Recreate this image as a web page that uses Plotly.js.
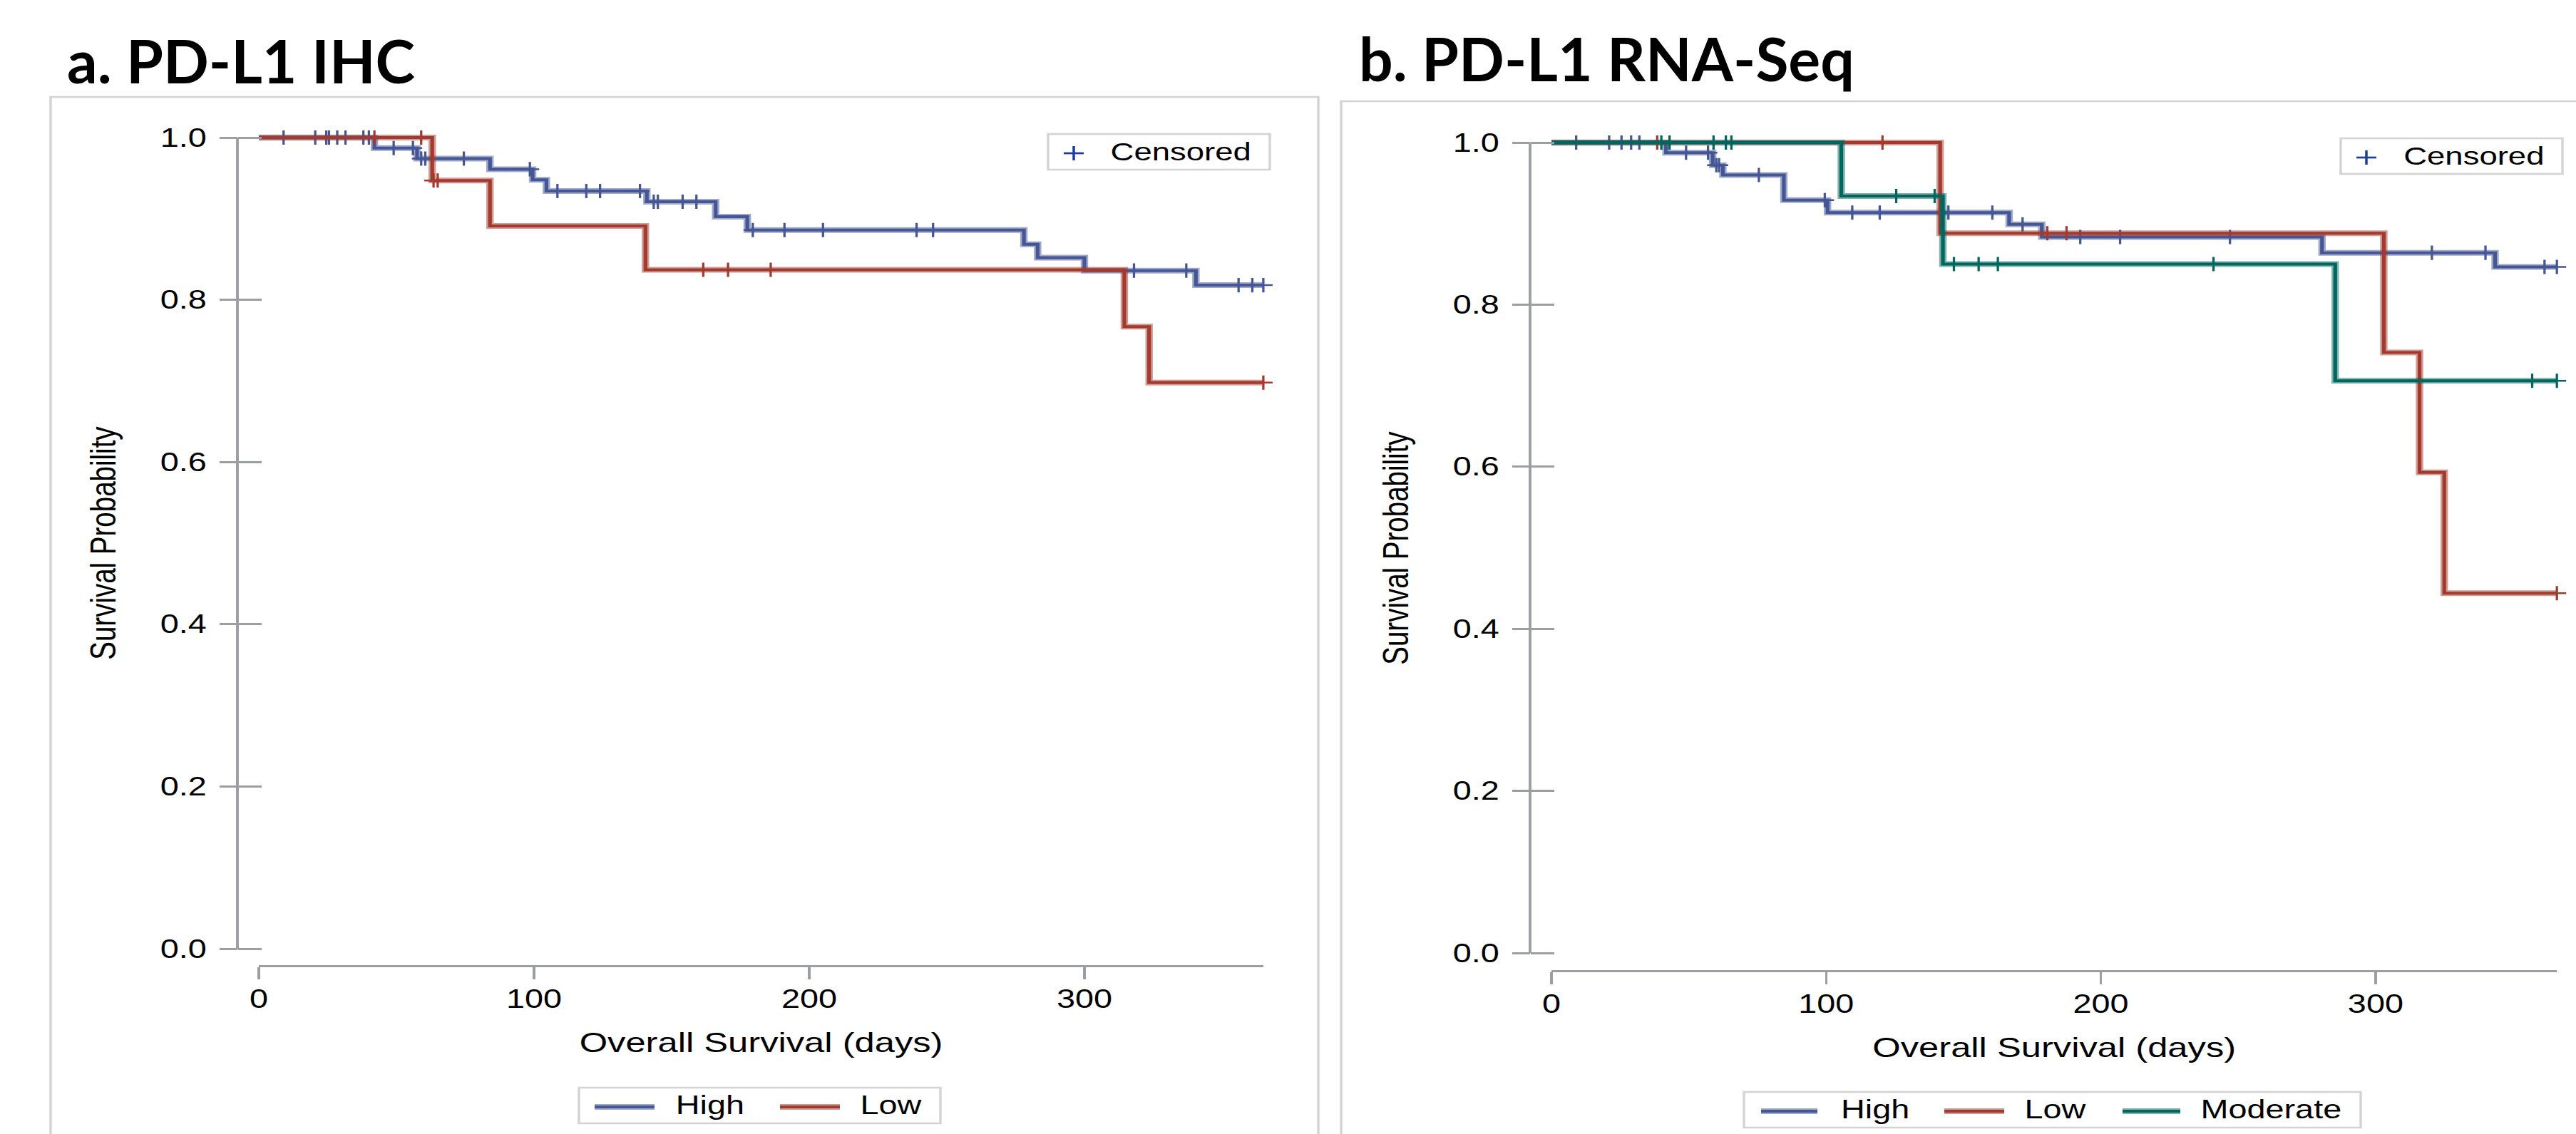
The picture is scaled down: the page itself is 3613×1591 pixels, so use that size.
<!DOCTYPE html>
<html>
<head>
<meta charset="utf-8">
<script src="https://cdn.plot.ly/plotly-3.0.1.min.js"></script>
<style>
html,body{margin:0;padding:0;background:#fff;overflow:hidden;width:3613px;height:1591px;}
#chart{position:absolute;left:0;top:0;width:2779px;height:1591px;transform:scaleX(1.30011);transform-origin:0 0;}
#titles{position:absolute;left:0;top:0;width:3613px;height:1591px;pointer-events:none;}
</style>
</head>
<body>
<div id="chart"></div>
<div id="titles"></div>
<script>
// ---------------- DATA ----------------
const panelTitles = ['a. PD-L1 IHC', 'b. PD-L1 RNA-Seq'];
const groupNames = ['High', 'Low', 'Moderate'];
const timeTicks = [0, 100, 200, 300];
const timeTickText = ['0', '100', '200', '300'];
const survTicks = [0, 0.2, 0.4, 0.6, 0.8, 1.0];
const survTickText = ['0.0', '0.2', '0.4', '0.6', '0.8', '1.0'];
const xTitle = 'Overall Survival (days)';
const yTitle = 'Survival Probability';
const censLabel = 'Censored';

// Panel a: PD-L1 IHC
const ihcHighTime = [0, 42, 57.5, 84, 99.5, 104.5, 141, 166, 177.5, 278, 283, 300, 340.5, 365];
const ihcHighSurv = [1, 0.987, 0.974, 0.961, 0.948, 0.934, 0.921, 0.9025, 0.886, 0.8685, 0.852, 0.836, 0.818, 0.818];
const ihcHighCens = [9, 20.5, 24.5, 25.5, 28.5, 31.5, 38, 40, 49, 56, 59, 60.5, 74.5, 98.5, 108.5, 119, 124, 138.5, 143.5, 145, 154, 159, 179.5, 191, 205, 239, 245, 318, 337, 356, 361, 365];

const ihcLowTime = [0, 63, 84, 140.5, 314.5, 323.5, 365];
const ihcLowSurv = [1, 0.947, 0.891, 0.837, 0.767, 0.698, 0.698];
const ihcLowCens = [42, 59, 63.5, 65, 161.5, 170.5, 186, 365];

// Panel b: PD-L1 RNA-Seq
const rnaHighTime = [0, 41.7, 58.7, 62.4, 84.6, 100.5, 166.6, 178.5, 280.5, 343.5, 366];
const rnaHighSurv = [1, 0.9875, 0.972, 0.96, 0.929, 0.9135, 0.899, 0.8835, 0.864, 0.8465, 0.8465];
const rnaHighCens = [9, 21, 25.5, 29, 32, 49, 57, 60, 61, 75.5, 99.5, 109.5, 119.5, 144.5, 160.5, 171.5, 192.5, 207, 247, 320.5, 340, 361.5, 366];

const rnaLowTime = [0, 141.5, 303, 316, 325, 366];
const rnaLowSurv = [1, 0.888, 0.741, 0.593, 0.444, 0.444];
const rnaLowCens = [38.5, 120.5, 180.5, 187.5, 366];

const rnaModTime = [0, 105.5, 142.5, 285.3, 366];
const rnaModSurv = [1, 0.934, 0.85, 0.706, 0.706];
const rnaModCens = [40, 43, 59, 63.5, 65.5, 125.5, 139.5, 146.5, 155.5, 162.5, 241, 357, 366];

// ---------------- STYLE / LAYOUT CONSTANTS ----------------
const W = 3613, H = 1591;
const px = v => v / W;
const py = v => 1 - v / H;
const COL = {High: '#445694', Low: '#A23A2E', Moderate: '#01665E'};
const GRAY = '#9b9fa4';
const BOX = '#d3d3d3';
const FONT = 'Liberation Sans, Arial, Helvetica, sans-serif';
const YPAD = 0.02;

const panels = [
  {xa: 'x', ya: 'y', yo: 'y3', x0: 363, x1: 1771.9, tMax: 365, yTop: 193, yZero: 1331, xAxisY: 1355, yAxisX: 333},
  {xa: 'x2', ya: 'y2', yo: 'y4', x0: 2176, x1: 3586.2, tMax: 366, yTop: 200, yZero: 1337, xAxisY: 1362, yAxisX: 2146}
];

function survAt(times, surv, t) {
  let s = surv[0];
  for (let i = 0; i < times.length; i++) { if (times[i] <= t) s = surv[i]; }
  return s;
}

function kmTraces(name, times, surv, cens, xa, ya) {
  const color = COL[name];
  return [
    {type: 'scatter', mode: 'lines', name: name, x: times, y: surv, xaxis: xa, yaxis: ya,
     line: {shape: 'hv', color: color, width: 8}, opacity: 0.5, showlegend: false, hoverinfo: 'skip'},
    {type: 'scatter', mode: 'lines', name: name, x: times, y: surv, xaxis: xa, yaxis: ya,
     line: {shape: 'hv', color: color, width: 4}, showlegend: false},
    {type: 'scatter', mode: 'markers', name: name + ' censored', x: cens,
     y: cens.map(t => survAt(times, surv, t)), xaxis: xa, yaxis: ya, cliponaxis: false,
     marker: {symbol: 'cross-thin-open', size: 14.3, color: color, line: {color: color, width: 2.5}},
     showlegend: false}
  ];
}

const data = [].concat(
  kmTraces('High', ihcHighTime, ihcHighSurv, ihcHighCens, 'x', 'y'),
  kmTraces('Low', ihcLowTime, ihcLowSurv, ihcLowCens, 'x', 'y'),
  kmTraces('High', rnaHighTime, rnaHighSurv, rnaHighCens, 'x2', 'y2'),
  kmTraces('Low', rnaLowTime, rnaLowSurv, rnaLowCens, 'x2', 'y2'),
  kmTraces('Moderate', rnaModTime, rnaModSurv, rnaModCens, 'x2', 'y2'),
  [{type: 'scatter', x: [null], y: [null], xaxis: 'x', yaxis: 'y3', showlegend: false, hoverinfo: 'skip'},
   {type: 'scatter', x: [null], y: [null], xaxis: 'x2', yaxis: 'y4', showlegend: false, hoverinfo: 'skip'}]
);

const layout = {
  width: 2779, height: H,
  margin: {l: 0, r: 0, t: 0, b: 0},
  paper_bgcolor: '#ffffff', plot_bgcolor: 'rgba(0,0,0,0)',
  showlegend: false,
  font: {family: FONT, color: '#000'},
  shapes: [], annotations: []
};

panels.forEach((p, i) => {
  const span = p.yZero - p.yTop;
  const yDom = [py(p.yZero + YPAD * span), py(p.yTop - YPAD * span)];
  const sfx = i === 0 ? '' : '2';
  const osfx = i === 0 ? '3' : '4';
  layout['xaxis' + sfx] = {
    domain: [px(p.x0), px(p.x1)], range: [0, p.tMax], anchor: 'free', position: py(p.xAxisY),
    showline: true, linecolor: GRAY, linewidth: 3, ticks: 'outside', ticklen: 17, tickwidth: 2.5, tickcolor: GRAY,
    tickvals: timeTicks, ticktext: timeTickText, tickfont: {family: FONT, size: 36, color: '#000'},
    showgrid: false, zeroline: false, ticklabelstandoff: -3, fixedrange: true
  };
  layout['yaxis' + sfx] = {
    domain: yDom, range: [-YPAD, 1 + YPAD], anchor: 'free', position: px(p.yAxisX),
    showline: false, ticks: 'outside', ticklen: 19, tickwidth: 3, tickcolor: GRAY,
    tickvals: survTicks, ticktext: survTickText, tickfont: {family: FONT, size: 36, color: '#000'},
    showgrid: false, zeroline: false, ticklabelstandoff: 7, fixedrange: true
  };
  layout['yaxis' + osfx] = {
    overlaying: p.ya, domain: yDom, range: [-YPAD, 1 + YPAD], anchor: 'free', position: px(p.yAxisX),
    showline: false, ticks: 'inside', ticklen: 25, tickwidth: 3, tickcolor: GRAY,
    tickvals: survTicks, showticklabels: false, showgrid: false, zeroline: false, fixedrange: true
  };
  // y axis line from 0 to 1 only
  layout.shapes.push({type: 'line', xref: 'paper', yref: p.ya, x0: px(p.yAxisX), x1: px(p.yAxisX), y0: 0, y1: 1,
    line: {color: GRAY, width: 3}});
  // axis titles
  layout.annotations.push({text: xTitle, xref: 'paper', yref: 'paper', x: px((p.x0 + p.x1) / 2), y: py(p.xAxisY + 107),
    xanchor: 'center', yanchor: 'middle', showarrow: false, font: {family: FONT, size: 39, color: '#000'}});
  layout.annotations.push({text: yTitle, xref: 'paper', yref: 'paper', x: px(p.yAxisX - 189), y: py((p.yTop + p.yZero) / 2),
    xanchor: 'center', yanchor: 'middle', textangle: -90, showarrow: false, font: {family: FONT, size: 38.5, color: '#000'}});
});

// panel borders
layout.shapes.push({type: 'rect', xref: 'paper', yref: 'paper', x0: px(71), x1: px(1849), y0: -0.02, y1: py(136),
  line: {color: BOX, width: 2.6}, fillcolor: 'rgba(0,0,0,0)', layer: 'below'});
layout.shapes.push({type: 'rect', xref: 'paper', yref: 'paper', x0: px(1881), x1: 1.02, y0: -0.02, y1: py(142),
  line: {color: BOX, width: 2.6}, fillcolor: 'rgba(0,0,0,0)', layer: 'below'});

// legend boxes & items
function legendBox(x0, x1, y0, y1) {
  layout.shapes.push({type: 'rect', xref: 'paper', yref: 'paper', x0: px(x0), x1: px(x1), y0: py(y1), y1: py(y0),
    line: {color: BOX, width: 2.6}, fillcolor: 'rgba(0,0,0,0)'});
}
function legendItem(name, sx0, sx1, y, tx) {
  const color = COL[name];
  layout.shapes.push({type: 'line', xref: 'paper', yref: 'paper', x0: px(sx0), x1: px(sx1), y0: py(y), y1: py(y),
    line: {color: color, width: 8}, opacity: 0.5});
  layout.shapes.push({type: 'line', xref: 'paper', yref: 'paper', x0: px(sx0), x1: px(sx1), y0: py(y), y1: py(y),
    line: {color: color, width: 4}});
  layout.annotations.push({text: name, xref: 'paper', yref: 'paper', x: px(tx), y: py(y - 3),
    xanchor: 'left', yanchor: 'middle', showarrow: false, font: {family: FONT, size: 36, color: '#000'}});
}
function censoredLegend(x0, y0) {
  legendBox(x0, x0 + 311, y0, y0 + 50);
  const cx = x0 + 36, cy = y0 + 27;
  layout.shapes.push({type: 'line', xref: 'paper', yref: 'paper', x0: px(cx - 14), x1: px(cx + 14), y0: py(cy), y1: py(cy),
    line: {color: '#1a3d99', width: 2.7}});
  layout.shapes.push({type: 'line', xref: 'paper', yref: 'paper', x0: px(cx), x1: px(cx), y0: py(cy - 10), y1: py(cy + 10),
    line: {color: '#1a3d99', width: 2.7}});
  layout.annotations.push({text: censLabel, xref: 'paper', yref: 'paper', x: px(x0 + 85), y: py(y0 + 24),
    xanchor: 'left', yanchor: 'middle', showarrow: false, font: {family: FONT, size: 35, color: '#000'}});
}

legendBox(812, 1319, 1526, 1576);
legendItem('High', 834, 918, 1553, 945);
legendItem('Low', 1094, 1178, 1553, 1204);
legendBox(2446, 3311, 1532, 1582);
legendItem('High', 2470, 2549, 1559, 2579);
legendItem('Low', 2727, 2811, 1559, 2837);
legendItem('Moderate', 2977, 3058, 1559, 3084);
censoredLegend(1470, 188);
censoredLegend(3283, 194);

Plotly.newPlot('chart', data, layout, {staticPlot: true, displayModeBar: false});

// Panel titles (not stretched)
const tLayout = {
  width: W, height: H, margin: {l: 0, r: 0, t: 0, b: 0},
  paper_bgcolor: 'rgba(0,0,0,0)', plot_bgcolor: 'rgba(0,0,0,0)',
  xaxis: {visible: false}, yaxis: {visible: false}, showlegend: false,
  annotations: [
    {text: '<b>' + panelTitles[0] + '</b>', xref: 'paper', yref: 'paper', x: px(92), y: py(84),
     xanchor: 'left', yanchor: 'middle', showarrow: false, font: {family: 'Lato, Noto Sans, sans-serif', size: 84, color: '#000'}},
    {text: '<b>' + panelTitles[1] + '</b>', xref: 'paper', yref: 'paper', x: px(1904), y: py(82),
     xanchor: 'left', yanchor: 'middle', showarrow: false, font: {family: 'Lato, Noto Sans, sans-serif', size: 84, color: '#000'}}
  ]
};
Plotly.newPlot('titles', [], tLayout, {staticPlot: true, displayModeBar: false});
</script>
</body>
</html>
